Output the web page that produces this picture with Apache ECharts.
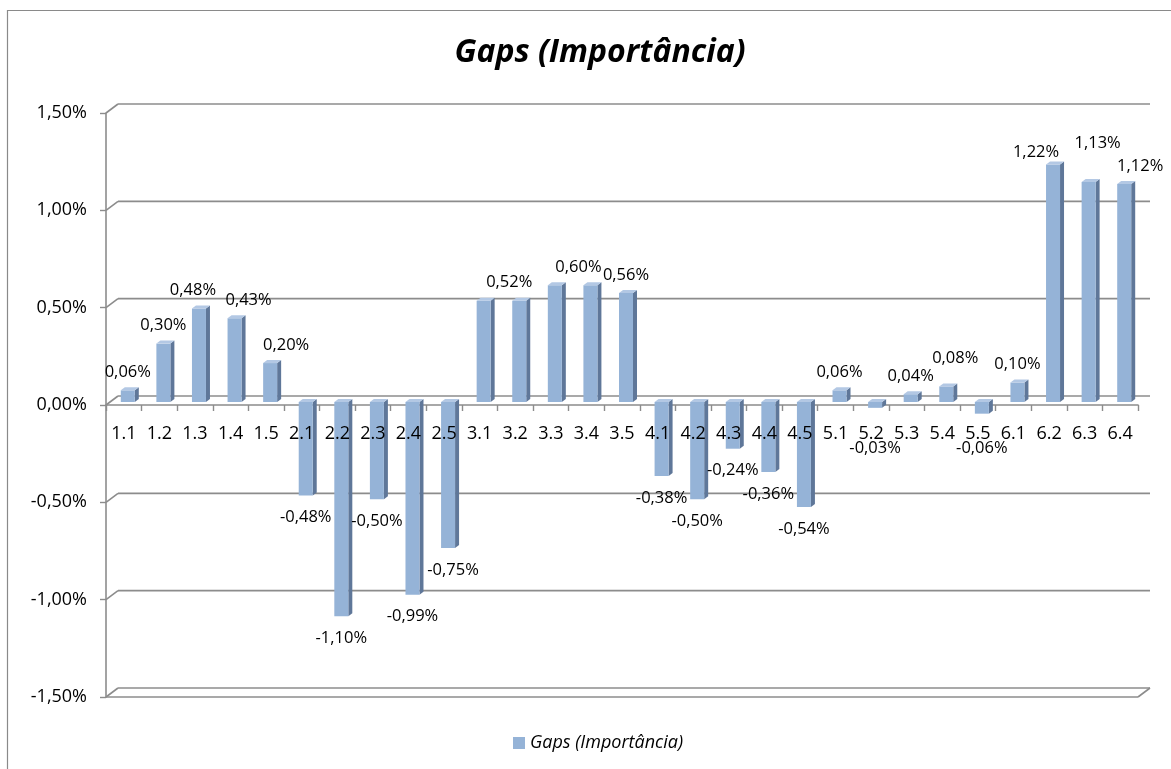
<!DOCTYPE html>
<html>
<head>
<meta charset="utf-8">
<title>Gaps (Importância)</title>
<script src="https://cdn.jsdelivr.net/npm/echarts@6/dist/echarts.min.js"></script>
<style>
  html, body { margin: 0; padding: 0; background: #fff; }
  #chart { width: 1171px; height: 769px; }
</style>
</head>
<body>
<div id="chart"></div>
<script>
// Item codes along the horizontal axis
const categories = [
  '1.1', '1.2', '1.3', '1.4', '1.5',
  '2.1', '2.2', '2.3', '2.4', '2.5',
  '3.1', '3.2', '3.3', '3.4', '3.5',
  '4.1', '4.2', '4.3', '4.4', '4.5',
  '5.1', '5.2', '5.3', '5.4', '5.5',
  '6.1', '6.2', '6.3', '6.4'
];

// Importance gap per item, in percent
const gaps = [
  0.06, 0.30, 0.48, 0.43, 0.20,
  -0.48, -1.10, -0.50, -0.99, -0.75,
  0.52, 0.52, 0.60, 0.60, 0.56,
  -0.38, -0.50, -0.24, -0.36, -0.54,
  0.06, -0.03, 0.04, 0.08, -0.06,
  0.10, 1.22, 1.13, 1.12
];

// Value axis ticks, in percent
const yTicks = [-1.5, -1.0, -0.5, 0, 0.5, 1.0, 1.5];

// Items whose value label is not printed
const unlabeled = ['3.1', '3.3'];

const SERIES_NAME = 'Gaps (Importância)';
const FONT = '"Open Sans", "Liberation Sans", sans-serif';
const LINE = '#8c8c8c';
const FRONT = '#95B3D7';
const SIDE = '#5F7799';
const TOP = '#B3C8E4';

// Plot area
const CHART_H = 769;
const GRID = { left: 106, right: 33, top: 113, bottom: 72 };
const Y_MIN = yTicks[0], Y_MAX = yTicks[yTicks.length - 1];
// The category axis runs along the zero line: shift it up from the plot bottom
const plotH = CHART_H - GRID.top - GRID.bottom;
const zeroOffset = -plotH * (0 - Y_MIN) / (Y_MAX - Y_MIN);

// 3D look: depth of the walls and of each column
const WALL_DX = 12, WALL_DY = -9;
const BAR_DX = 4, BAR_DY = -3;     // column depth
const BAR_SHIFT_X = 4, BAR_SHIFT_Y = -3; // columns sit slightly behind the front plane
const BAR_HALF = 7;

// Hand-placed label nudges (dx, dy) for a few crowded labels
const labelNudge = {
  '1.3': [-6, 0], '1.4': [14, 0], '1.5': [16, 0], '2.5': [5, 0],
  '3.2': [-10, 0], '3.4': [-12, 0], '5.4': [9, -10],
  '6.2': [-17, 6], '6.3': [9, -21], '6.4': [16, 0]
};

function fmt(v) {
  return v.toFixed(2).replace('.', ',') + '%';
}

const chart = echarts.init(document.getElementById('chart'), null, { renderer: 'canvas' });

function renderWalls(params, api) {
  const cs = params.coordSys;
  const v = api.value(0);
  const y = api.coord([0, v])[1];
  const x0 = cs.x, x1 = cs.x + cs.width;
  const style = { stroke: LINE, lineWidth: 1.6, fill: null };
  const children = [
    { type: 'line', shape: { x1: x0, y1: y, x2: x0 + WALL_DX, y2: y + WALL_DY }, style },
    { type: 'line', shape: { x1: x0 + WALL_DX, y1: y + WALL_DY, x2: x1 + WALL_DX, y2: y + WALL_DY }, style }
  ];
  if (v === Y_MIN) {
    // floor slab at the bottom of the plot
    children.push(
      { type: 'line', shape: { x1: x0, y1: y, x2: x1, y2: y }, style },
      { type: 'line', shape: { x1: x1, y1: y, x2: x1 + WALL_DX, y2: y + WALL_DY }, style }
    );
  }
  return { type: 'group', children };
}

function barFaces(api) {
  const idx = api.value(0);
  const v = api.value(1);
  const base = api.coord([idx, 0]);
  const tip = api.coord([idx, v]);
  const cx = base[0] + BAR_SHIFT_X;
  const yt = Math.min(base[1], tip[1]) + BAR_SHIFT_Y;
  const yb = Math.max(base[1], tip[1]) + BAR_SHIFT_Y;
  return { cx, yt, yb, l: cx - BAR_HALF, r: cx + BAR_HALF, v, idx };
}

function renderBar(params, api) {
  const b = barFaces(api);
  return {
    type: 'group',
    children: [
      {
        type: 'polygon',
        shape: { points: [[b.r, b.yt], [b.r + BAR_DX, b.yt + BAR_DY], [b.r + BAR_DX, b.yb + BAR_DY], [b.r, b.yb]] },
        style: { fill: SIDE }
      },
      {
        type: 'rect',
        shape: { x: b.l, y: b.yt, width: b.r - b.l, height: Math.max(b.yb - b.yt, 0.5) },
        style: { fill: FRONT }
      },
      {
        type: 'polygon',
        shape: { points: [[b.l, b.yt], [b.l + BAR_DX, b.yt + BAR_DY], [b.r + BAR_DX, b.yt + BAR_DY], [b.r, b.yt]] },
        style: { fill: TOP }
      }
    ]
  };
}

function renderLabel(params, api) {
  const b = barFaces(api);
  const code = categories[b.idx];
  if (unlabeled.indexOf(code) >= 0) return null;
  const zeroY = api.coord([b.idx, 0])[1];
  let y;
  if (b.v >= 0) {
    y = b.yt - 18;
  } else {
    // keep negative labels clear of the category labels
    y = Math.max(b.yb + 22, zeroY + 43);
  }
  const n = labelNudge[code] || [0, 0];
  return {
    type: 'text',
    style: {
      text: fmt(b.v),
      x: b.cx + n[0],
      y: y + n[1],
      align: 'center',
      verticalAlign: 'middle',
      fill: '#000',
      font: '16.5px ' + FONT
    }
  };
}

const option = {
  backgroundColor: '#fff',
  animation: false,
  textStyle: { fontFamily: FONT },
  title: {
    text: 'Gaps (Importância)',
    left: 595,
    textAlign: 'center',
    top: 32,
    textStyle: { fontSize: 32, fontWeight: 'bold', fontStyle: 'italic', color: '#000', fontFamily: FONT }
  },
  legend: {
    data: [SERIES_NAME],
    left: 508,
    top: 729,
    icon: 'rect',
    itemWidth: 12,
    itemHeight: 12,
    itemGap: 5,
    textStyle: { fontSize: 18, fontStyle: 'italic', color: '#000', fontFamily: FONT }
  },
  graphic: [
    {
      type: 'rect',
      shape: { x: 7.5, y: 10.5, width: 1300, height: 900 },
      style: { fill: null, stroke: '#8a8a8a', lineWidth: 1.2 },
      silent: true
    }
  ],
  grid: GRID,
  xAxis: [
    {
      // zero line with its ticks, beneath the columns
      type: 'category',
      data: categories,
      position: 'bottom',
      offset: zeroOffset,
      z: 0,
      axisLine: { onZero: false, lineStyle: { color: LINE, width: 1.6 } },
      axisTick: { show: true, length: 6, lineStyle: { color: LINE, width: 1.4 } },
      axisLabel: { show: false },
      splitLine: { show: false }
    },
    {
      // category names, printed over the columns
      type: 'category',
      data: categories,
      position: 'bottom',
      offset: zeroOffset,
      z: 10,
      axisLine: { show: false, onZero: false },
      axisTick: { show: false },
      axisLabel: { interval: 0, fontSize: 18, color: '#000', margin: 20, fontFamily: FONT },
      splitLine: { show: false }
    }
  ],
  yAxis: {
    type: 'value',
    min: Y_MIN,
    max: Y_MAX,
    interval: 0.5,
    axisLine: { show: true, lineStyle: { color: LINE, width: 1.6 } },
    axisTick: { show: true, length: 6, lineStyle: { color: LINE, width: 1.4 } },
    axisLabel: { fontSize: 18, color: '#000', margin: 19, fontFamily: FONT, formatter: (v) => fmt(v) },
    splitLine: { show: false }
  },
  series: [
    {
      type: 'custom',
      name: 'walls',
      silent: true,
      z: 1,
      renderItem: renderWalls,
      data: yTicks.map((v) => [v]),
      encode: { y: 0 }
    },
    {
      type: 'custom',
      name: SERIES_NAME,
      z: 3,
      itemStyle: { color: FRONT },
      renderItem: renderBar,
      data: gaps.map((v, i) => [i, v]),
      encode: { x: 0, y: 1 }
    },
    {
      type: 'custom',
      name: 'labels',
      silent: true,
      z: 5,
      renderItem: renderLabel,
      data: gaps.map((v, i) => [i, v]),
      encode: { x: 0, y: 1 }
    }
  ]
};

chart.setOption(option);
</script>
</body>
</html>
